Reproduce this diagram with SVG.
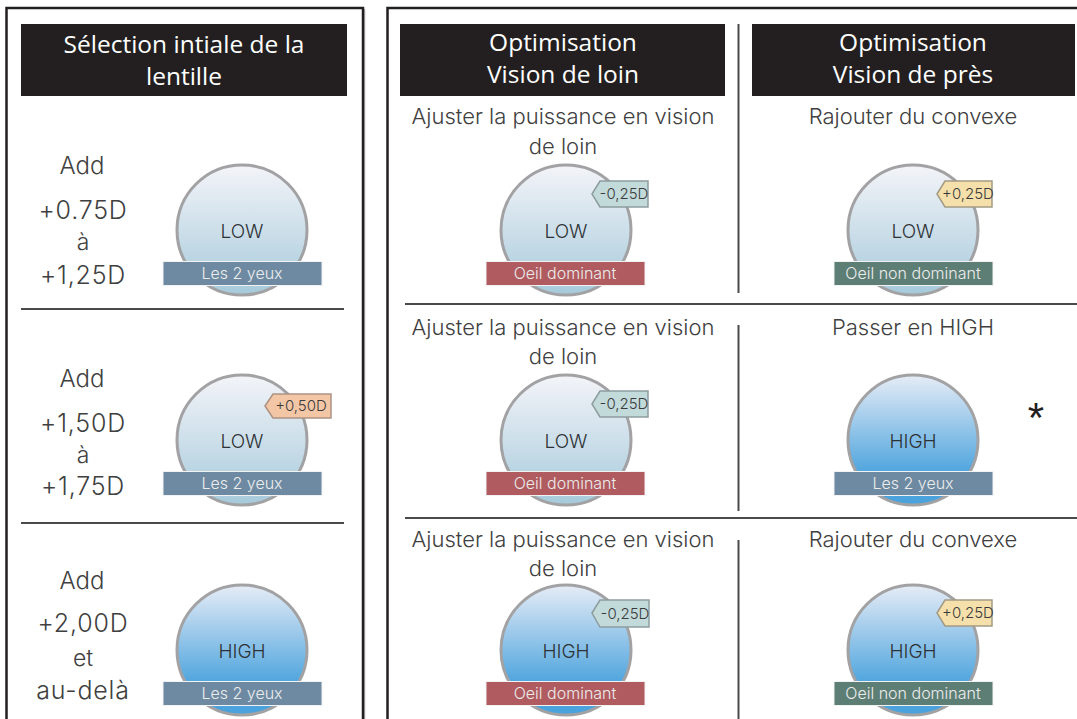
<svg xmlns="http://www.w3.org/2000/svg" width="1077" height="719" viewBox="0 0 1077 719">
<defs>
<linearGradient id="gLow" x1="0" y1="0" x2="0" y2="1">
<stop offset="0" stop-color="#f3f4f8"/>
<stop offset="1" stop-color="#a6cadb"/>
</linearGradient>
<linearGradient id="gHigh" x1="0" y1="0" x2="0" y2="1">
<stop offset="0" stop-color="#e6ecf6"/>
<stop offset="0.75" stop-color="#4fa5de"/>
<stop offset="1" stop-color="#4aa2dc"/>
</linearGradient>
<style>
.frame{fill:none;stroke:#231f20;stroke-width:2.5}
.shadow{fill:none;stroke:#b5b5b5;stroke-width:1.5}
.div{stroke:#4a4a4a;stroke-width:2;fill:none}
.hdr{fill:#231f20}
.ht{font-family:"Open Sans","Noto Sans",sans-serif;font-size:24.5px;fill:#ffffff;text-anchor:middle}
.t{font-family:Inter,"Open Sans",sans-serif;font-weight:300;font-size:22px;fill:#404040;text-anchor:middle}
.add{font-family:Inter,"Open Sans",sans-serif;font-weight:300;font-size:24px;fill:#404040;text-anchor:middle}
.num{font-family:Inter,"Open Sans",sans-serif;font-weight:300;font-size:25px;fill:#404040;text-anchor:middle;letter-spacing:0.8px}
.sm{font-family:Inter,"Open Sans",sans-serif;font-weight:300;font-size:23px;fill:#404040;text-anchor:middle}
.lens{stroke:#a2a2a4;stroke-width:3}
.low{fill:url(#gLow)}
.high{fill:url(#gHigh)}
.lt{font-family:Inter,"Open Sans",sans-serif;font-weight:300;font-size:19px;fill:#2e3236;text-anchor:middle}
.band{stroke:#f2f2f2;stroke-width:1}
.b2{fill:#6d8aa2}
.bd{fill:#b05b5f}
.bn{fill:#5d7e75}
.bt{font-family:Inter,"Open Sans",sans-serif;font-weight:300;font-size:16px;fill:#ececec;text-anchor:middle}
.bm{stroke-width:1.5}
.bmin{fill:#c3dadb;stroke:#8d9d9e}
.bplus{fill:#f5e0ab;stroke:#a39b84}
.bor{fill:#f3c7a6;stroke:#ad9282}
.bmt{font-family:Inter,"Open Sans",sans-serif;font-weight:300;font-size:15px;fill:#3a3a3a;text-anchor:middle}
</style>
</defs>

<g id="frames">
<path class="shadow" d="M364.5 9 V719"/>
<path class="frame" d="M6.5 719 V8 H363 V719"/>
<path class="frame" d="M387.5 719 V8 H1077"/>
</g>

<g id="headers">
<rect class="hdr" x="21" y="24" width="326" height="72"/>
<text class="ht" x="184" y="53">Sélection intiale de la</text>
<text class="ht" x="184" y="85">lentille</text>
<rect class="hdr" x="400" y="24" width="325" height="72"/>
<text class="ht" x="563" y="51">Optimisation</text>
<text class="ht" x="563" y="83">Vision de loin</text>
<rect class="hdr" x="752" y="24" width="323" height="72"/>
<text class="ht" x="913" y="51">Optimisation</text>
<text class="ht" x="913" y="83">Vision de près</text>
</g>

<g id="connectors">
<line class="div" x1="21" y1="309" x2="344" y2="309"/>
<line class="div" x1="21" y1="523" x2="344" y2="523"/>
<line class="div" x1="405" y1="304" x2="1077" y2="304"/>
<line class="div" x1="405" y1="518" x2="1077" y2="518"/>
<line class="div" x1="738.5" y1="24" x2="738.5" y2="293"/>
<line class="div" x1="738.5" y1="325" x2="738.5" y2="511"/>
<line class="div" x1="738.5" y1="540" x2="738.5" y2="719"/>
</g>

<g id="row1-left">
<text class="add" x="82" y="174">Add</text>
<text class="num" x="83" y="219">+0.75D</text>
<text class="sm" x="83" y="250">à</text>
<text class="num" x="83" y="284">+1,25D</text>
<circle class="lens low" cx="242" cy="230" r="65"/>
<text class="lt" x="242" y="238">LOW</text>
<rect class="band b2" x="163" y="261.5" width="159" height="24"/>
<text class="bt" x="242" y="279">Les 2 yeux</text>
</g>

<g id="row2-left">
<text class="add" x="82" y="387">Add</text>
<text class="num" x="83" y="432">+1,50D</text>
<text class="sm" x="83" y="463">à</text>
<text class="num" x="83" y="495">+1,75D</text>
<circle class="lens low" cx="242" cy="440" r="65"/>
<text class="lt" x="242" y="448">LOW</text>
<rect class="band b2" x="163" y="471.5" width="159" height="24"/>
<text class="bt" x="242" y="489">Les 2 yeux</text>
<path class="bm bor" d="M265 406 L273 394 H331 V418 H273 Z"/>
<text class="bmt" x="301" y="411">+0,50D</text>
</g>

<g id="row3-left">
<text class="add" x="82" y="589">Add</text>
<text class="num" x="83" y="632">+2,00D</text>
<text class="sm" x="83" y="666">et</text>
<text class="num" x="83" y="699">au-delà</text>
<circle class="lens high" cx="242" cy="650" r="65"/>
<text class="lt" x="242" y="658">HIGH</text>
<rect class="band b2" x="163" y="681.5" width="159" height="24"/>
<text class="bt" x="242" y="699">Les 2 yeux</text>
</g>

<g id="row1-far">
<text class="t" x="563" y="124">Ajuster la puissance en vision</text>
<text class="t" x="563" y="154">de loin</text>
<circle class="lens low" cx="566" cy="230" r="65"/>
<text class="lt" x="566" y="238">LOW</text>
<rect class="band bd" x="486" y="261.5" width="159" height="24"/>
<text class="bt" x="565" y="279">Oeil dominant</text>
<path class="bm bmin" d="M592 194 L600 181 H648 V207 H600 Z"/>
<text class="bmt" x="624" y="199">-0,25D</text>
</g>

<g id="row1-near">
<text class="t" x="913" y="124">Rajouter du convexe</text>
<circle class="lens low" cx="913" cy="230" r="65"/>
<text class="lt" x="913" y="238">LOW</text>
<rect class="band bn" x="834" y="261.5" width="159" height="24"/>
<text class="bt" x="913" y="279">Oeil non dominant</text>
<path class="bm bplus" d="M937 194 L945 181 H992 V207 H945 Z"/>
<text class="bmt" x="968" y="199">+0,25D</text>
</g>

<g id="row2-far">
<text class="t" x="563" y="335">Ajuster la puissance en vision</text>
<text class="t" x="563" y="364">de loin</text>
<circle class="lens low" cx="566" cy="440" r="65"/>
<text class="lt" x="566" y="448">LOW</text>
<rect class="band bd" x="486" y="471.5" width="159" height="24"/>
<text class="bt" x="565" y="489">Oeil dominant</text>
<path class="bm bmin" d="M592 404 L600 391 H648 V417 H600 Z"/>
<text class="bmt" x="624" y="409">-0,25D</text>
</g>

<g id="row2-near">
<text class="t" x="913" y="335">Passer en HIGH</text>
<circle class="lens high" cx="913" cy="440" r="65"/>
<text class="lt" x="913" y="448">HIGH</text>
<rect class="band b2" x="834" y="471.5" width="159" height="24"/>
<text class="bt" x="913" y="489">Les 2 yeux</text>
<text x="1036" y="432" style="font-family:'Liberation Sans',sans-serif;font-size:42px;fill:#231f20;text-anchor:middle">*</text>
</g>

<g id="row3-far">
<text class="t" x="563" y="547">Ajuster la puissance en vision</text>
<text class="t" x="563" y="576">de loin</text>
<circle class="lens high" cx="566" cy="650" r="65"/>
<text class="lt" x="566" y="658">HIGH</text>
<rect class="band bd" x="486" y="681.5" width="159" height="24"/>
<text class="bt" x="565" y="699">Oeil dominant</text>
<path class="bm bmin" d="M592 613 L600 600 H649 V627 H600 Z"/>
<text class="bmt" x="625" y="619">-0,25D</text>
</g>

<g id="row3-near">
<text class="t" x="913" y="547">Rajouter du convexe</text>
<circle class="lens high" cx="913" cy="650" r="65"/>
<text class="lt" x="913" y="658">HIGH</text>
<rect class="band bn" x="834" y="681.5" width="159" height="24"/>
<text class="bt" x="913" y="699">Oeil non dominant</text>
<path class="bm bplus" d="M937 613 L945 600 H992 V626 H945 Z"/>
<text class="bmt" x="968" y="618">+0,25D</text>
</g>
</svg>
